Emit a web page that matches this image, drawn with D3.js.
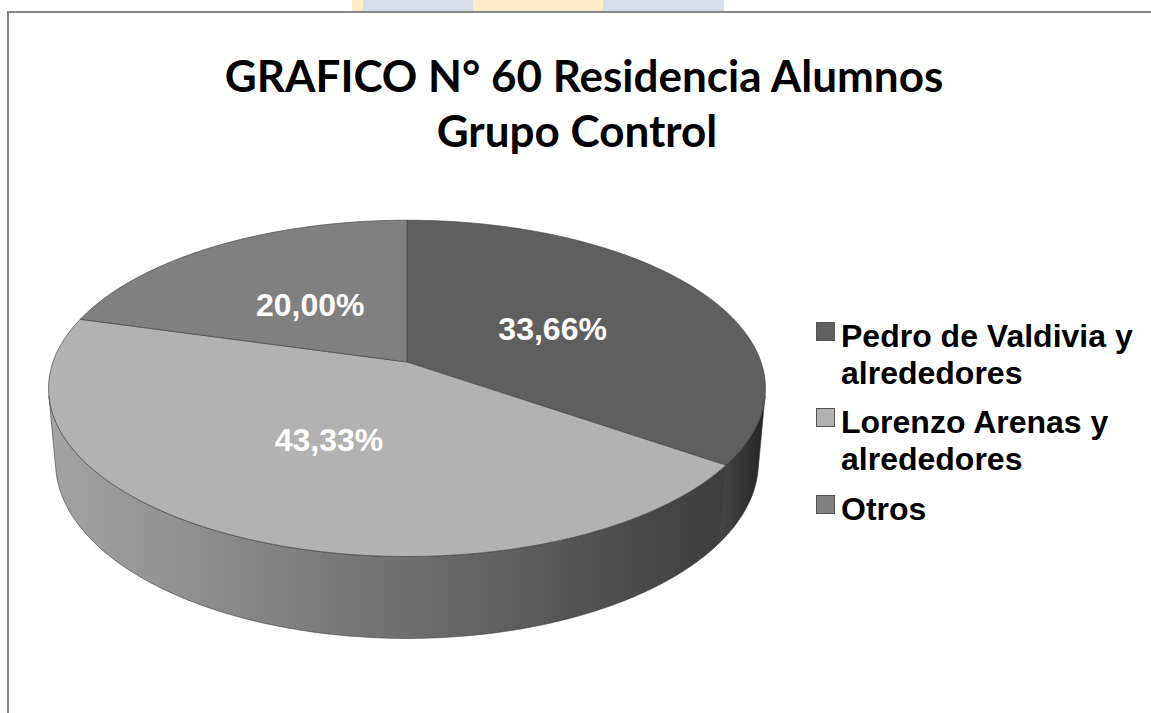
<!DOCTYPE html>
<html>
<head>
<meta charset="utf-8">
<script src="https://cdn.jsdelivr.net/npm/d3@7"></script>
<style>
  html, body { margin: 0; padding: 0; background: #fff; overflow: hidden; }
  svg { display: block; }
</style>
</head>
<body>
<svg id="chart" width="1151" height="713"></svg>
<script>
// ---- data ----
const categories = ["Pedro de Valdivia y alrededores", "Lorenzo Arenas y alrededores", "Otros"];
const legendLines = [["Pedro de Valdivia y", "alrededores"], ["Lorenzo Arenas y", "alrededores"], ["Otros"]];
const values = [33.66, 43.33, 20.00];
const titleLines = ["GRAFICO N° 60 Residencia Alumnos", "Grupo Control"];

// ---- styles ----
const topColors = ["#5f5f5f", "#b2b2b2", "#808080"];
const sideStops = [
  [["#474747", 0], ["#242424", 1]],
  [["#a4a4a4", 0], ["#777777", 0.45], ["#3e3e3e", 1]],
  [["#707070", 0], ["#505050", 1]]
];

const svg = d3.select("#chart");

// faint banner strip behind the frame
const banner = svg.append("g");
[[352, 11, "#fdecc9"], [363, 110, "#d7e0ea"], [473, 130, "#fdecc9"], [603, 121, "#d7e0ea"]]
  .forEach(([x, w, c]) => banner.append("rect").attr("x", x).attr("y", 0).attr("width", w).attr("height", 11).attr("fill", c));

// chart area frame
svg.append("rect")
  .attr("x", 8).attr("y", 12).attr("width", 1170).attr("height", 720)
  .attr("fill", "#fff").attr("stroke", "#878787").attr("stroke-width", 2);

// ---- title ----
const title = svg.append("g")
  .attr("font-family", "Lato, 'Open Sans', sans-serif")
  .attr("font-weight", 700)
  .attr("font-size", 44)
  .attr("fill", "#000")
  .attr("text-anchor", "middle");
title.append("text").attr("x", 584).attr("y", 92).text(titleLines[0]);
title.append("text").attr("x", 577).attr("y", 147).text(titleLines[1]);

// ---- 3D pie projection ----
const view = { cx: 407, cy: 362, focal: 2000, radius: 0.177, tilt: 27.6 * Math.PI / 180, thick: 0.042 };
const sinT = Math.sin(view.tilt), cosT = Math.cos(view.tilt);
function project(theta, y, frac = 1) {
  const x = frac * view.radius * Math.sin(theta);
  const z = frac * view.radius * Math.cos(theta);
  const depth = 1 - y * sinT + z * cosT;
  return [view.cx + view.focal * x / depth, view.cy - view.focal * (y * cosT + z * sinT) / depth];
}
function arcPoints(a0, a1, y) {
  const n = Math.max(2, Math.ceil(Math.abs(a1 - a0) / 0.01));
  return d3.range(n + 1).map(i => project(a0 + (a1 - a0) * i / n, y));
}

const pie = d3.pie().sort(null).value(d => d)(values);
const line = d3.line();

// side wall visible where the outward normal faces the camera
const visLimit = Math.acos(-view.radius / cosT);
const visFrom = visLimit, visTo = 2 * Math.PI - visLimit;

const defs = svg.append("defs");
const sides = svg.append("g");
pie.forEach((p, i) => {
  const a0 = Math.max(p.startAngle, visFrom), a1 = Math.min(p.endAngle, visTo);
  if (a1 <= a0) return;
  const topArc = arcPoints(a0, a1, 0);
  const botArc = arcPoints(a0, a1, -view.thick).reverse();
  const xs = topArc.concat(botArc).map(d => d[0]);
  const grad = defs.append("linearGradient").attr("id", "side" + i)
    .attr("gradientUnits", "userSpaceOnUse")
    .attr("x1", i === 1 ? 50 : d3.min(xs)).attr("x2", i === 1 ? 720 : d3.max(xs))
    .attr("y1", 0).attr("y2", 0);
  sideStops[i].forEach(([c, o]) => grad.append("stop").attr("offset", o).attr("stop-color", c));
  sides.append("path")
    .attr("d", line(topArc.concat(botArc)) + "Z")
    .attr("fill", `url(#side${i})`)
    .attr("stroke", "#3a3a3a").attr("stroke-width", 0.6).attr("stroke-linejoin", "round");
});

const tops = svg.append("g");
pie.forEach((p, i) => {
  const pts = [project(0, 0, 0)].concat(arcPoints(p.startAngle, p.endAngle, 0));
  tops.append("path")
    .attr("d", line(pts) + "Z")
    .attr("fill", topColors[i])
    .attr("stroke", "#474747").attr("stroke-width", 0.7).attr("stroke-linejoin", "round");
});

// ---- value labels ----
const fmt = v => d3.format(".2f")(v).replace(".", ",") + "%";
const labels = svg.append("g")
  .attr("font-family", "'Liberation Sans', Arial, sans-serif")
  .attr("font-weight", 700).attr("font-size", 32).attr("fill", "#fff")
  .attr("text-anchor", "middle");
pie.forEach((p, i) => {
  const mid = (p.startAngle + p.endAngle) / 2;
  const [x, y] = project(mid, 0, 0.48);
  labels.append("text").attr("x", x).attr("y", y + 13).text(fmt(values[i]));
});

// ---- legend ----
const legend = svg.append("g")
  .attr("font-family", "'Liberation Sans', Arial, sans-serif")
  .attr("font-weight", 700).attr("font-size", 32).attr("fill", "#000");
const legendTop = [347, 433, 520];
legendLines.forEach((lines, i) => {
  legend.append("rect")
    .attr("x", 816.5).attr("y", legendTop[i] - 24.5).attr("width", 18).attr("height", 18)
    .attr("fill", topColors[i]).attr("stroke", "#555").attr("stroke-width", 1);
  lines.forEach((t, j) => {
    legend.append("text").attr("x", 841).attr("y", legendTop[i] + j * 37).text(t);
  });
});
</script>
</body>
</html>
